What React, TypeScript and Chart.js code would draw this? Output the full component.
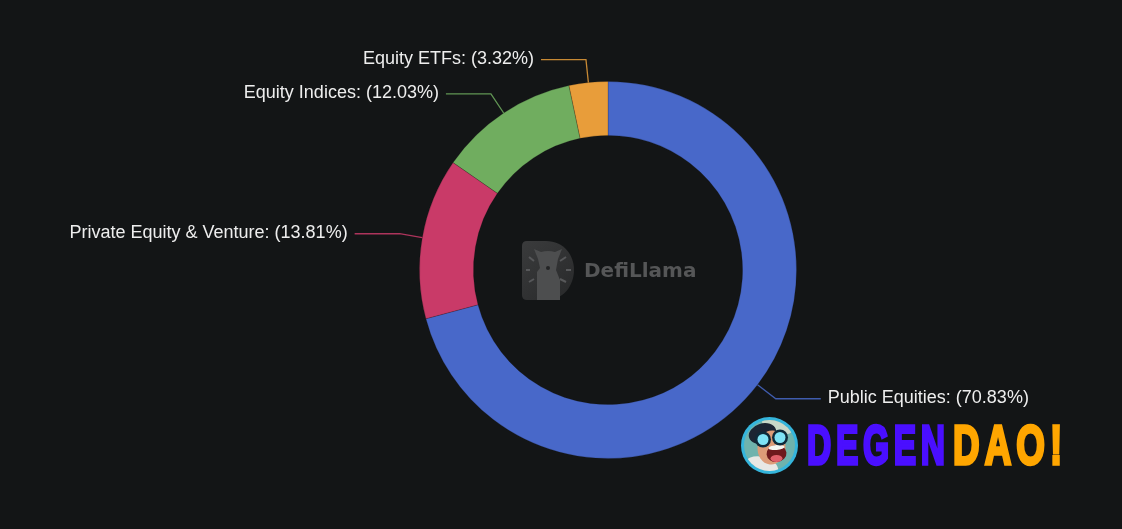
import { useEffect, useRef } from "react";
import { Chart, registerables, type Plugin } from "chart.js";

Chart.register(...registerables);

const CATEGORIES = ["Public Equities", "Private Equity & Venture", "Equity Indices", "Equity ETFs"];
const SHARES = [70.83, 13.81, 12.03, 3.32];
const COLORS = ["#4868c9", "#c93a68", "#70ad5f", "#e89d3a"];

const BG = "#131516";
const LABEL_FONT = '18px "Liberation Sans", Arial, sans-serif';

// leader lines + labels, taken from each arc's own geometry
const leaderLabels: Plugin<"doughnut"> = {
  id: "leaderLabels",
  afterDatasetsDraw(chart) {
    const ctx = chart.ctx;
    chart.getDatasetMeta(0).data.forEach((el, i) => {
      const arc = el as any;
      const mid = (arc.startAngle + arc.endAngle) / 2;
      const { x: cx, y: cy, outerRadius: r } = arc;
      const x0 = cx + Math.cos(mid) * r;
      const y0 = cy + Math.sin(mid) * r;
      const x1 = cx + Math.cos(mid) * (r + 23);
      const y1 = cy + Math.sin(mid) * (r + 23);
      const side = Math.cos(mid) >= 0 ? 1 : -1;
      const x2 = x1 + side * 45;

      ctx.save();
      ctx.strokeStyle = COLORS[i];
      ctx.globalAlpha = 0.85;
      ctx.lineWidth = 1.3;
      ctx.beginPath();
      ctx.moveTo(x0, y0);
      ctx.lineTo(x1, y1);
      ctx.lineTo(x2, y1);
      ctx.stroke();
      ctx.globalAlpha = 1;

      ctx.font = LABEL_FONT;
      ctx.fillStyle = "#eeeeee";
      ctx.textBaseline = "middle";
      ctx.textAlign = side > 0 ? "left" : "right";
      ctx.fillText(`${CATEGORIES[i]}: (${SHARES[i].toFixed(2)}%)`, x2 + side * 7, y1 - 1);
      ctx.restore();
    });
  },
};

function drawLlamaLogo(ctx: CanvasRenderingContext2D) {
  ctx.save();
  // rounded "D" badge
  const grad = ctx.createLinearGradient(522, 241, 574, 300);
  grad.addColorStop(0, "#3a3b3c");
  grad.addColorStop(1, "#28292a");
  ctx.fillStyle = grad;
  ctx.beginPath();
  ctx.moveTo(527, 241);
  ctx.lineTo(546, 241);
  ctx.bezierCurveTo(564, 241, 574, 255, 574, 270);
  ctx.bezierCurveTo(574, 285, 564, 300, 546, 300);
  ctx.lineTo(527, 300);
  ctx.quadraticCurveTo(522, 300, 522, 295);
  ctx.lineTo(522, 246);
  ctx.quadraticCurveTo(522, 241, 527, 241);
  ctx.fill();
  // llama
  ctx.fillStyle = "#4d4e4f";
  ctx.beginPath();
  ctx.moveTo(534, 249);
  ctx.lineTo(541, 252);
  ctx.quadraticCurveTo(548, 250, 555, 252);
  ctx.lineTo(562, 249);
  ctx.lineTo(558, 259);
  ctx.lineTo(556, 270);
  ctx.lineTo(560, 280);
  ctx.lineTo(560, 300);
  ctx.lineTo(537, 300);
  ctx.lineTo(537, 272);
  ctx.lineTo(540, 268);
  ctx.lineTo(538, 259);
  ctx.closePath();
  ctx.fill();
  ctx.fillStyle = "#232425";
  ctx.beginPath();
  ctx.arc(548, 268, 2, 0, Math.PI * 2);
  ctx.fill();
  // sun rays
  ctx.strokeStyle = "#57585a";
  ctx.lineWidth = 2;
  for (const [a, b, c, d] of [
    [529, 257, 534, 261],
    [526, 270, 530, 270],
    [529, 282, 534, 279],
    [560, 261, 566, 257],
    [566, 270, 571, 270],
    [560, 279, 566, 282],
  ]) {
    ctx.beginPath();
    ctx.moveTo(a, b);
    ctx.lineTo(c, d);
    ctx.stroke();
  }
  ctx.fillStyle = "#555657";
  ctx.font = 'bold 20px "DejaVu Sans", sans-serif';
  ctx.textAlign = "left";
  ctx.textBaseline = "middle";
  ctx.fillText("DefiLlama", 584, 272);
  ctx.restore();
}

function drawAvatar(ctx: CanvasRenderingContext2D) {
  const cx = 769.5;
  const cy = 445.5;
  ctx.save();
  ctx.beginPath();
  ctx.arc(cx, cy, 28.5, 0, Math.PI * 2);
  ctx.fillStyle = "#35b5dc";
  ctx.fill();
  ctx.beginPath();
  ctx.arc(cx, cy, 25.5, 0, Math.PI * 2);
  ctx.fillStyle = "#6fb3ad";
  ctx.fill();
  ctx.clip();
  // pale backdrop
  ctx.fillStyle = "#c9d8c9";
  ctx.beginPath();
  ctx.ellipse(cx + 8, cy - 20, 16, 8, 0.3, 0, Math.PI * 2);
  ctx.fill();
  // coat
  ctx.fillStyle = "#e8e8e4";
  ctx.beginPath();
  ctx.ellipse(cx - 9, cy + 23, 18, 12, 0.2, 0, Math.PI * 2);
  ctx.fill();
  // hair
  ctx.fillStyle = "#1c2433";
  ctx.beginPath();
  ctx.ellipse(cx - 7, cy - 12, 14, 10, -0.3, 0, Math.PI * 2);
  ctx.fill();
  // face
  ctx.fillStyle = "#dd9c78";
  ctx.beginPath();
  ctx.ellipse(cx + 2, cy + 2, 14, 17, 0.1, 0, Math.PI * 2);
  ctx.fill();
  // mouth
  ctx.fillStyle = "#6e1a1d";
  ctx.beginPath();
  ctx.ellipse(cx + 7, cy + 8, 10, 8.5, -0.1, 0, Math.PI * 2);
  ctx.fill();
  ctx.fillStyle = "#e0606a";
  ctx.beginPath();
  ctx.ellipse(cx + 7, cy + 13, 6, 3.5, 0, 0, Math.PI * 2);
  ctx.fill();
  ctx.fillStyle = "#f6f6f2";
  ctx.beginPath();
  ctx.ellipse(cx + 7, cy + 2, 8, 2.5, -0.1, 0, Math.PI * 2);
  ctx.fill();
  // goggles
  for (const [gx, gy] of [
    [cx - 6.5, cy - 6],
    [cx + 10.5, cy - 8],
  ]) {
    ctx.beginPath();
    ctx.arc(gx, gy, 8, 0, Math.PI * 2);
    ctx.fillStyle = "#0f2a3a";
    ctx.fill();
    ctx.beginPath();
    ctx.arc(gx, gy, 5.5, 0, Math.PI * 2);
    ctx.fillStyle = "#7fe3f5";
    ctx.fill();
  }
  ctx.restore();
}

function drawWord(ctx: CanvasRenderingContext2D, word: string, x: number, sx: number, gap: string, color: string) {
  ctx.save();
  ctx.font = 'bold 40px "Liberation Sans", sans-serif';
  ctx.textBaseline = "alphabetic";
  ctx.textAlign = "left";
  (ctx as any).letterSpacing = gap;
  ctx.translate(x, 464);
  ctx.scale(sx, 1.4);
  ctx.fillStyle = color;
  ctx.strokeStyle = color;
  ctx.lineWidth = 2.4;
  ctx.lineJoin = "miter";
  ctx.fillText(word, 0, 0);
  ctx.strokeText(word, 0, 0);
  ctx.restore();
}

const watermarks: Plugin<"doughnut"> = {
  id: "watermarks",
  afterDraw(chart) {
    drawLlamaLogo(chart.ctx);
    drawAvatar(chart.ctx);
    drawWord(chart.ctx, "DEGEN", 807, 0.84, "5.5px", "#4a0fff");
    drawWord(chart.ctx, "DAO!", 953, 0.92, "5.5px", "#ffa600");
  },
};

export default function App() {
  const canvasRef = useRef<HTMLCanvasElement | null>(null);

  useEffect(() => {
    document.body.style.margin = "0";
    document.body.style.background = BG;
    const canvas = canvasRef.current;
    if (!canvas) return;
    const chart = new Chart(canvas, {
      type: "doughnut",
      data: {
        labels: CATEGORIES,
        datasets: [
          {
            data: SHARES,
            backgroundColor: COLORS,
            borderColor: "rgba(19,21,22,0.2)",
            borderWidth: 1,
            hoverOffset: 0,
          },
        ],
      },
      options: {
        responsive: false,
        animation: false,
        cutout: "71.4%",
        layout: { padding: { left: 94, right: 0, top: 81, bottom: 70 } },
        plugins: {
          legend: { display: false },
          tooltip: { enabled: false },
        },
      },
      plugins: [leaderLabels, watermarks],
    });
    return () => chart.destroy();
  }, []);

  return (
    <div style={{ width: 1122, height: 529, background: BG, overflow: "hidden" }}>
      <canvas ref={canvasRef} width={1122} height={529} style={{ display: "block" }} />
    </div>
  );
}
